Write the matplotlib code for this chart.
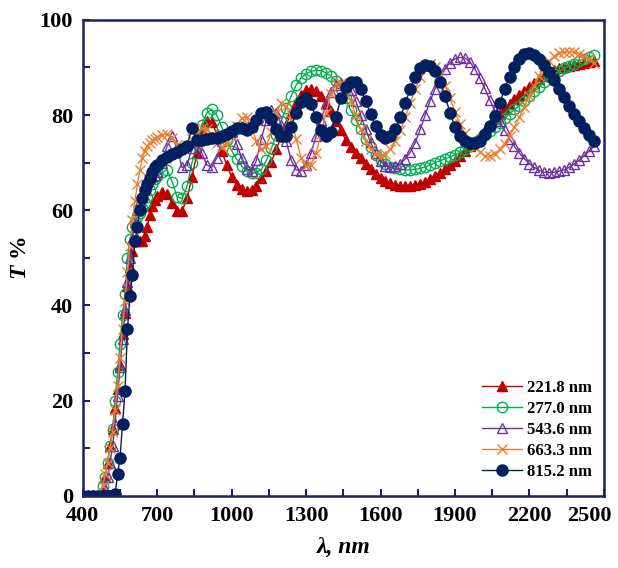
import numpy as np
import matplotlib
matplotlib.use("Agg")
import matplotlib.pyplot as plt
import matplotlib.transforms as mtransforms
from matplotlib.ticker import FixedLocator

plt.rcParams["font.family"] = ["Liberation Serif", "DejaVu Serif"]
plt.rcParams["font.weight"] = "bold"
plt.rcParams["mathtext.fontset"] = "custom"
plt.rcParams["mathtext.it"] = "Liberation Serif:italic:bold"
plt.rcParams["mathtext.rm"] = "Liberation Serif:bold"

# wavelength grid (nm)
wl = np.concatenate([[400, 420, 440, 460, 480],
                     np.arange(490, 700, 10),
                     np.arange(700, 2461, 20)])

t_221 = [0, 0, 0, 0, 1.5, 4, 7, 10.5, 14, 18.5, 22.5, 27.5, 34, 38.5, 44, 48,
         51.5, 53.5, 54, 53.6, 53.5, 54.5, 56.5, 59, 61, 62.2,
         63, 63.8, 63.5, 61.5, 59.8, 59.8, 62.5, 67, 72, 76.5,
         78.8, 78.5, 76, 72.5, 69.5, 67, 65.3, 64.4, 64, 64.2,
         65.2, 66.7, 68.3, 70.2, 72.8, 75.5, 78, 80.5, 82.5, 84.3,
         85.2, 85.5, 85, 84, 82.5, 80.8, 78.8, 76.8, 74.8, 73.2,
         72, 70.9, 69.7, 68.6, 67.6, 66.8, 66.2, 65.7, 65.4, 65.2,
         65.1, 65.1, 65.3, 65.6, 66, 66.5, 67.1, 67.8, 68.6, 69.5,
         70.4, 71.4, 72.4, 73.5, 74.6, 75.7, 76.9, 78, 79.1, 80.2,
         81.2, 82.3, 83.3, 84.2, 85.1, 86, 86.8, 87.5, 88.2, 88.9,
         89.4, 89.8, 90.1, 90.4, 90.6, 90.8, 91, 91.2, 91.3]

t_277 = [0, 0, 0, 0, 2, 4, 7, 10.5, 14, 20, 26, 32, 38, 42.5, 50, 54,
         56.5, 57.5, 58.5, 59.5, 60.5, 61.5, 62.8, 64.2, 65.5, 66.5,
         67.3, 68, 68.5, 66, 62.8, 62.5, 65, 70, 74, 78,
         80.5, 81.2, 80, 77.5, 74.8, 72.5, 70.8, 69.3, 68.3, 67.8,
         67.9, 68.6, 70.5, 73, 75.8, 78.8, 81.5, 84, 86.3, 87.8,
         88.7, 89.2, 89.4, 89.3, 88.9, 88.2, 87.2, 85.5, 83.5, 81,
         79, 77, 75, 73.3, 71.7, 70.5, 69.7, 69.1, 68.8, 68.6,
         68.5, 68.5, 68.6, 68.8, 69.1, 69.5, 70, 70.4, 70.8, 71.2,
         71.6, 72.2, 72.8, 73.5, 74.3, 75, 75.8, 76.6, 77.5, 78.4,
         79.3, 80.3, 81.2, 82, 83, 84, 85, 86, 87, 87.9,
         88.6, 89.2, 89.8, 90.3, 90.8, 91.3, 91.8, 92.2, 92.6]

t_543 = [0, 0, 0, 0, 0, 1.5, 4, 7, 10.5, 15, 21, 27, 33, 39, 45, 50,
         54, 57.5, 60, 62, 63.5, 64.8, 66, 66.8, 67.2, 67.5,
         68, 70, 73.5, 75.5, 73, 69, 69.5, 73, 74.5, 72,
         69.5, 69, 71, 74.5, 76.5, 76.5, 74, 71, 68.7, 68.2,
         70.5, 75, 79, 81, 80.5, 78, 74.5, 70.5, 68.5, 68.3,
         69.5, 72, 75.5, 79, 82.3, 84.8, 86.3, 86.8, 86.5, 85.3,
         83, 80, 77, 74.3, 72, 70.3, 69.3, 69, 69.2, 69.8,
         70.8, 72.2, 74.2, 77, 80, 83, 85.5, 87.8, 89.7, 91,
         91.8, 92.1, 92, 91.2, 89.7, 87.8, 85.6, 83.2, 81, 78.8,
         76.8, 75, 73.4, 72, 70.8, 69.8, 69, 68.4, 68, 67.9,
         68, 68.2, 68.5, 69, 69.7, 70.5, 71.4, 72.4, 73.4]

t_663 = [0, 0, 0, 0, 2, 4.5, 7, 10, 13.5, 18, 23, 29, 35, 41, 47, 52.5,
         58, 62, 65.5, 68.5, 71, 72.5, 73.5, 74.2, 74.7, 75,
         75.3, 75.8, 76, 75.2, 73.8, 73, 73.5, 75, 76.5, 77.2,
         77, 75.8, 74.2, 73.3, 73.8, 75.5, 77.8, 79.3, 79.5, 77.5,
         74.5, 72.8, 73.5, 76.5, 80.5, 82.5, 82, 79, 75, 71,
         69.2, 69.5, 72, 76, 80.5, 84.5, 86.5, 86.8, 85.5, 83,
         80, 77, 74.5, 72.8, 71.8, 71.5, 71.8, 72.8, 74.5, 76.8,
         79.5, 82.5, 85.5, 88, 90, 90.8, 90.2, 88.5, 86.2, 83.5,
         80.7, 78.2, 76.2, 74.5, 73.2, 72.2, 71.5, 71.3, 71.8, 72.8,
         74, 75.6, 77.5, 79.6, 81.8, 84, 86.2, 88.2, 90, 91.4,
         92.4, 93, 93.2, 93.3, 93.2, 92.9, 92.4, 91.7, 91]

t_815 = [0, 0, 0, 0, 0, 0, 0, 0, 0, 0.3, 4.5, 8, 15, 22, 35, 42,
         46.5, 53.5, 56.5, 60, 62.5, 64.2, 65.5, 66.8, 68, 69,
         69.6, 70.5, 71.2, 71.8, 72.3, 72.8, 73.5, 77.3, 74.8, 74.8,
         75, 75.1, 75.2, 75.5, 76, 76.6, 77.2, 77.2, 76.8, 77.5,
         79, 80.5, 80.6, 79.2, 77, 75.6, 75.6, 77.5, 80.5, 82.8,
         83.6, 82.3, 79.5, 76.8, 75.5, 76.5, 79.5, 83.5, 86, 87,
         87, 85.5, 83, 80.2, 77.7, 75.9, 75.2, 75.5, 77, 79.5,
         82.5, 85.5, 88, 89.8, 90.5, 90.3, 89.2, 87, 84, 80.5,
         77.5, 75.5, 74.5, 74.2, 74.2, 74.5, 76, 77.8, 79.8, 82.5,
         85.5, 88, 90.2, 91.8, 92.8, 93, 92.6, 91.8, 90.5, 89,
         87.3, 85.5, 83.7, 82, 80.3, 78.7, 77.3, 75.8, 74.5]

labels = ["221.8 nm", "277.0 nm", "543.6 nm", "663.3 nm", "815.2 nm"]
series = [t_221, t_277, t_543, t_663, t_815]
colors = ["#C00000", "#00B050", "#7030A0", "#ED7D31", "#002060"]
markers = ["^", "o", "^", "x", "o"]
sizes = [7, 7.5, 7.5, 7.5, 8]
filled = [True, False, False, True, True]

fig = plt.figure(figsize=(6.18, 5.68), dpi=100)
ax = fig.add_axes([0.134, 0.127, 0.843, 0.838])

for t, lab, c, m, s, f in zip(series, labels, colors, markers, sizes, filled):
    ax.plot(wl, t, color=c, lw=1.0, marker=m, ms=s,
            mfc=c if f else "none", mec=c, mew=1.0, label=lab)

ax.set_xlim(400, 2500)
ax.set_ylim(0, 100)
ax.xaxis.set_major_locator(FixedLocator(np.arange(400, 2501, 300)))
ax.xaxis.set_minor_locator(FixedLocator(np.arange(400, 2501, 150)))
ax.yaxis.set_major_locator(FixedLocator(np.arange(0, 101, 20)))
ax.yaxis.set_minor_locator(FixedLocator(np.arange(0, 101, 10)))

navy = "#1A2260"
for sp in ax.spines.values():
    sp.set_color(navy)
    sp.set_linewidth(1.8)
ax.tick_params(which="both", direction="in", color=navy, width=1.5,
               length=5, top=False, right=False)
ax.tick_params(which="major", labelsize=16, pad=7)
for lbl in ax.get_xticklabels() + ax.get_yticklabels():
    lbl.set_fontweight("bold")

# last x label pulled left so it stays inside the figure
last = ax.get_xticklabels()[-1]
last.set_transform(last.get_transform() +
                   mtransforms.ScaledTranslation(-0.14, 0, fig.dpi_scale_trans))

ax.set_xlabel("λ, nm", fontsize=17, fontstyle="italic", fontweight="bold",
              labelpad=8)
ax.set_ylabel(r"$T$ %", fontsize=17, fontweight="bold", labelpad=6)

ax.legend(loc="lower right", bbox_to_anchor=(0.99, 0.02), frameon=False,
          prop={"family": "Liberation Serif", "weight": "bold", "size": 12},
          handlelength=2.4, handletextpad=0.3, labelspacing=0.3,
          borderaxespad=0.0)

fig.savefig("out.png", dpi=100)
